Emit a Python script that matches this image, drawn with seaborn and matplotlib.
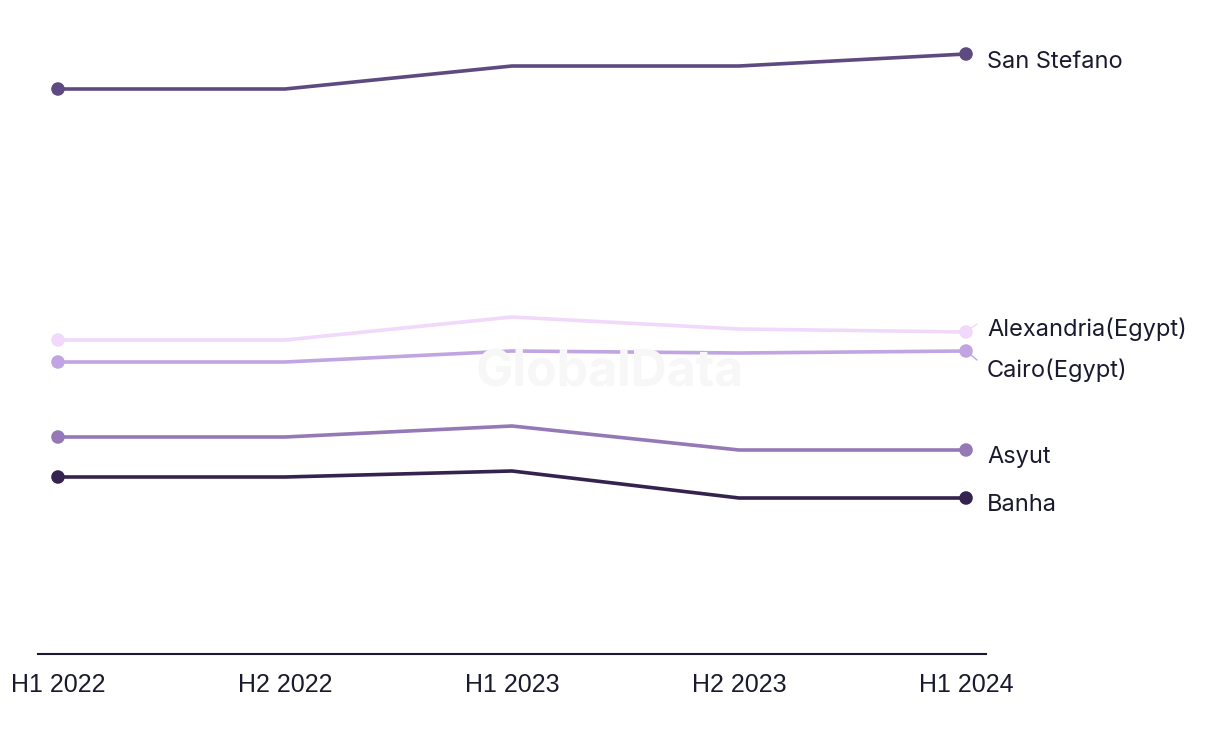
import matplotlib
matplotlib.use("Agg")
import matplotlib.pyplot as plt
import seaborn as sns
import pandas as pd
from matplotlib import font_manager

periods = ["H1 2022", "H2 2022", "H1 2023", "H2 2023", "H1 2024"]
series_names = ["San Stefano", "Alexandria(Egypt)", "Cairo(Egypt)", "Asyut", "Banha"]
san_stefano = [56.5, 56.5, 58.8, 58.8, 60.0]
alexandria = [31.4, 31.4, 33.7, 32.5, 32.2]
cairo = [29.2, 29.2, 30.3, 30.1, 30.3]
asyut = [21.7, 21.7, 22.8, 20.4, 20.4]
banha = [17.7, 17.7, 18.3, 15.6, 15.6]
colors = ["#5e4a80", "#f0d9fb", "#c0a5e2", "#9479b6", "#34224f"]

values = [san_stefano, alexandria, cairo, asyut, banha]
rows = []
for name, vals in zip(series_names, values):
    for i, (p, v) in enumerate(zip(periods, vals)):
        rows.append({"series": name, "period": p, "x": i, "value": v})
df = pd.DataFrame(rows)

sns.set_theme(style="white")
names = {f.name for f in font_manager.fontManager.ttflist}
tick_font = "Liberation Sans Narrow" if "Liberation Sans Narrow" in names else "Liberation Sans"
label_font = "Inter" if "Inter" in names else "DejaVu Sans"

fig = plt.figure(figsize=(12.2, 7.44), dpi=100)
ax = fig.add_axes([38 / 1220, 1 - 654 / 744, (986 - 38) / 1220, (654 - 20) / 744])

# watermark (figure coords)
fig.text(610 / 1220, 1 - 373 / 744, "GlobalData", ha="center", va="center",
         fontsize=36, fontweight="bold", color="#f7f7f7", family=label_font, zorder=0)

palette = dict(zip(series_names, colors))
sns.lineplot(data=df, x="x", y="value", hue="series", palette=palette,
             linewidth=2.6, legend=False, ax=ax, zorder=2)
ends = df[df["x"].isin([0, len(periods) - 1])]
sns.scatterplot(data=ends, x="x", y="value", hue="series", palette=palette,
                s=95, edgecolor="none", legend=False, ax=ax, zorder=3)
ax.patch.set_alpha(0)

ax.set_xlim(-0.088, 4.088)
ax.set_ylim(0, 63.4)
ax.set_xticks(range(len(periods)))
ax.set_xticklabels(periods, fontfamily=tick_font, fontsize=18, color="#1a1a2e")
ax.tick_params(axis="x", length=0, pad=14)
ax.set_yticks([])
ax.set_xlabel("")
ax.set_ylabel("")
for s in ["top", "right", "left"]:
    ax.spines[s].set_visible(False)
ax.spines["bottom"].set_color("#1a1a2e")
ax.spines["bottom"].set_linewidth(1.5)

# end labels (pixel offsets below/above the last point)
offsets = [8, -3, 19, 7, 7]
last = len(periods) - 1
for name, vals, dy in zip(series_names, values, offsets):
    ax.annotate(name, xy=(last, vals[-1]), xytext=(21, -dy), textcoords="offset pixels",
                ha="left", va="center", fontsize=17, family=label_font,
                color="#1a1a2e", annotation_clip=False)

# leader lines for the two close labels
ax.annotate("", xy=(last, alexandria[-1]), xytext=(11, 8), textcoords="offset pixels",
            arrowprops=dict(arrowstyle="-", color=colors[1], lw=1.0, shrinkA=0, shrinkB=4),
            annotation_clip=False)
ax.annotate("", xy=(last, cairo[-1]), xytext=(11, -9), textcoords="offset pixels",
            arrowprops=dict(arrowstyle="-", color=colors[2], lw=1.0, shrinkA=0, shrinkB=4),
            annotation_clip=False)

fig.savefig("out.png", dpi=100)
